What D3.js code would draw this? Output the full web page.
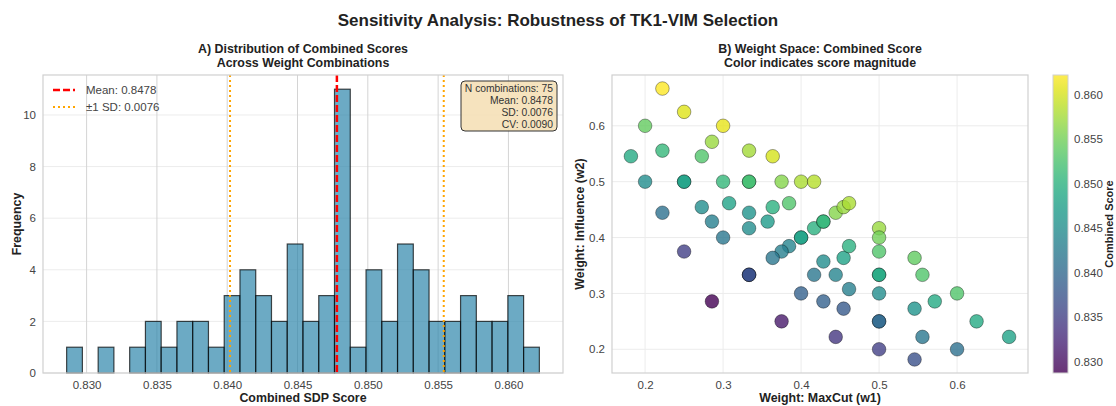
<!DOCTYPE html>
<html>
<head>
<meta charset="utf-8">
<script src="https://cdn.jsdelivr.net/npm/d3@7"></script>
<style>
  html, body { margin: 0; padding: 0; background: #fff; }
  svg { display: block; font-family: "Liberation Sans", Arial, sans-serif; }
</style>
</head>
<body>
<svg id="chart" width="1116" height="406"></svg>
<script>
// ---------------- DATA ----------------
// Histogram (30 bins between binStart and binEnd)
const binStart = 0.82858;
const binEnd = 0.86220;
const binCounts = [1,0,1,0,1,2,1,2,2,1,3,4,3,2,5,2,3,11,1,4,2,5,4,2,2,3,2,2,3,1];
const meanScore = 0.8478;
const sdScore = 0.0076;
const cvScore = 0.0090;
const nCombinations = 75;
const histXTicks = [0.830, 0.835, 0.840, 0.845, 0.850, 0.855, 0.860];
const histYTicks = [0, 2, 4, 6, 8, 10];

// Scatter: weight combinations and their combined scores
const w1 = [0.2222,0.25,0.2,0.3,0.2857,0.1818,0.2222,0.2727,0.3333,0.3636,
            0.2,0.25,0.25,0.3,0.3333,0.3333,0.375,0.4,0.4167,0.2727,
            0.3077,0.2222,0.2857,0.3333,0.3333,0.3636,0.3846,0.3571,0.3,0.4167,
            0.4286,0.4286,0.4444,0.4545,0.4615,0.4,0.4,0.3846,0.375,0.3636,
            0.25,0.3333,0.3333,0.3333,0.2857,0.375,0.4444,0.4,0.4167,0.4286,
            0.4444,0.4545,0.4615,0.4286,0.4615,0.4545,0.5,0.5,0.5,0.5,
            0.5,0.5,0.5,0.5,0.5,0.5455,0.5556,0.5455,0.5714,0.6,
            0.5556,0.5455,0.6,0.625,0.6667];
const w2 = [0.6667,0.625,0.6,0.6,0.5714,0.5455,0.5556,0.5455,0.5556,0.5455,
            0.5,0.5,0.5,0.5,0.5,0.5,0.5,0.5,0.5,0.4545,
            0.4615,0.4444,0.4286,0.4444,0.4167,0.4545,0.4615,0.4286,0.4,0.4167,
            0.4286,0.4286,0.4444,0.4545,0.4615,0.4,0.4,0.3846,0.375,0.3636,
            0.375,0.3333,0.3333,0.3333,0.2857,0.25,0.2222,0.3,0.3333,0.3571,
            0.3333,0.3636,0.3846,0.2857,0.3077,0.2727,0.4167,0.4,0.375,0.3333,
            0.3333,0.3,0.25,0.25,0.2,0.3636,0.3333,0.2727,0.2857,0.3,
            0.2222,0.1818,0.2,0.25,0.2222];
const scores = [0.8622,0.8605,0.8542,0.8610,0.8570,0.8490,0.8510,0.8530,0.8575,0.8600,
                0.8450,0.8480,0.8480,0.8510,0.8520,0.8520,0.8560,0.8580,0.8585,0.8450,
                0.8480,0.8410,0.8430,0.8460,0.8450,0.8500,0.8530,0.8470,0.8420,0.8500,
                0.8510,0.8510,0.8560,0.8570,0.8580,0.8480,0.8480,0.8440,0.8430,0.8420,
                0.8350,0.8370,0.8370,0.8370,0.8287,0.8310,0.8340,0.8390,0.8420,0.8450,
                0.8440,0.8480,0.8500,0.8390,0.8430,0.8380,0.8570,0.8550,0.8530,0.8490,
                0.8490,0.8450,0.8400,0.8400,0.8350,0.8540,0.8530,0.8460,0.8490,0.8530,
                0.8420,0.8370,0.8410,0.8490,0.8480];
const scatXTicks = [0.2, 0.3, 0.4, 0.5, 0.6];
const scatYTicks = [0.2, 0.3, 0.4, 0.5, 0.6];
const cbarTicks = [0.830, 0.835, 0.840, 0.845, 0.850, 0.855, 0.860];

// ---------------- LAYOUT ----------------
const svg = d3.select("#chart");
const L = {x0: 43, x1: 563, y0: 75, y1: 373};
const R = {x0: 612, x1: 1028, y0: 75, y1: 373};
const CB = {x0: 1053, x1: 1068, y0: 75, y1: 373};
const tickColor = "#444";
const tickSize = 11.5;
const fmt3 = d3.format(".3f");
const fmt1 = d3.format(".1f");

svg.append("text").attr("x", 558).attr("y", 26).attr("text-anchor", "middle")
  .attr("font-size", 17).attr("font-weight", "bold").attr("fill", "#222")
  .text("Sensitivity Analysis: Robustness of TK1-VIM Selection");

// ---------------- HISTOGRAM ----------------
const binW = (binEnd - binStart) / binCounts.length;
const bins = binCounts.map((c, i) => ({x0: binStart + i * binW, x1: binStart + (i + 1) * binW, c}));
const hPad = (binEnd - binStart) * 0.05;
const hx = d3.scaleLinear().domain([binStart - hPad, binEnd + hPad]).range([L.x0, L.x1]);
const hyMax = d3.max(binCounts) * 1.05;
const hy = d3.scaleLinear().domain([0, hyMax]).range([L.y1, L.y0]);

const gL = svg.append("g");
// grid
gL.append("g").selectAll("line").data(histYTicks).join("line")
  .attr("x1", L.x0).attr("x2", L.x1).attr("y1", d => hy(d)).attr("y2", d => hy(d))
  .attr("stroke", "#ececec").attr("stroke-width", 1);
gL.append("g").selectAll("line").data(histXTicks).join("line")
  .attr("x1", d => hx(d)).attr("x2", d => hx(d)).attr("y1", L.y0).attr("y2", L.y1)
  .attr("stroke", "#d4d4d4").attr("stroke-width", 1);
// bars
gL.append("g").selectAll("rect").data(bins.filter(b => b.c > 0)).join("rect")
  .attr("x", d => hx(d.x0)).attr("width", d => hx(d.x1) - hx(d.x0))
  .attr("y", d => hy(d.c)).attr("height", d => hy(0) - hy(d.c))
  .attr("fill", "#2E86AB").attr("fill-opacity", 0.7)
  .attr("stroke", "#000").attr("stroke-opacity", 0.7).attr("stroke-width", 1.2);
// mean & sd lines
gL.append("line").attr("x1", hx(meanScore)).attr("x2", hx(meanScore)).attr("y1", L.y0).attr("y2", L.y1)
  .attr("stroke", "#ff0000").attr("stroke-width", 2.5).attr("stroke-dasharray", "7,3");
[meanScore - sdScore, meanScore + sdScore].forEach(v => {
  gL.append("line").attr("x1", hx(v)).attr("x2", hx(v)).attr("y1", L.y0).attr("y2", L.y1)
    .attr("stroke", "#ffa500").attr("stroke-width", 2).attr("stroke-dasharray", "2,3");
});
// frame
gL.append("rect").attr("x", L.x0).attr("y", L.y0).attr("width", L.x1 - L.x0).attr("height", L.y1 - L.y0)
  .attr("fill", "none").attr("stroke", "#d0d0d0").attr("stroke-width", 1.2);
// axes
const hxAxis = gL.append("g").attr("transform", `translate(0,${L.y1})`)
  .call(d3.axisBottom(hx).tickValues(histXTicks).tickFormat(fmt3).tickSize(0).tickPadding(8));
const hyAxis = gL.append("g").attr("transform", `translate(${L.x0},0)`)
  .call(d3.axisLeft(hy).tickValues(histYTicks).tickSize(0).tickPadding(7));
[hxAxis, hyAxis].forEach(a => { a.select(".domain").remove();
  a.selectAll("text").attr("font-size", tickSize).attr("fill", tickColor).attr("font-family", "Liberation Sans, Arial, sans-serif"); });
// titles
gL.append("text").attr("x", (L.x0 + L.x1) / 2).attr("y", 53).attr("text-anchor", "middle")
  .attr("font-size", 12.4).attr("font-weight", "bold").attr("fill", "#222").text("A) Distribution of Combined Scores");
gL.append("text").attr("x", (L.x0 + L.x1) / 2).attr("y", 67).attr("text-anchor", "middle")
  .attr("font-size", 12.4).attr("font-weight", "bold").attr("fill", "#222").text("Across Weight Combinations");
gL.append("text").attr("x", (L.x0 + L.x1) / 2).attr("y", 402).attr("text-anchor", "middle")
  .attr("font-size", 12.4).attr("font-weight", "bold").attr("fill", "#222").text("Combined SDP Score");
gL.append("text").attr("transform", `translate(21,${(L.y0 + L.y1) / 2}) rotate(-90)`).attr("text-anchor", "middle")
  .attr("font-size", 12.4).attr("font-weight", "bold").attr("fill", "#222").text("Frequency");
// legend
const leg = gL.append("g");
leg.append("line").attr("x1", 53).attr("x2", 75).attr("y1", 90).attr("y2", 90)
  .attr("stroke", "#ff0000").attr("stroke-width", 2.5).attr("stroke-dasharray", "7,3");
leg.append("text").attr("x", 86).attr("y", 94).attr("font-size", tickSize).attr("fill", tickColor).text("Mean: " + meanScore.toFixed(4));
leg.append("line").attr("x1", 53).attr("x2", 75).attr("y1", 107).attr("y2", 107)
  .attr("stroke", "#ffa500").attr("stroke-width", 2).attr("stroke-dasharray", "2,3");
leg.append("text").attr("x", 86).attr("y", 111).attr("font-size", tickSize).attr("fill", tickColor).text("±1 SD: " + sdScore.toFixed(4));
// stats box
const statLines = ["N combinations: " + nCombinations, "Mean: " + meanScore.toFixed(4), "SD: " + sdScore.toFixed(4), "CV: " + cvScore.toFixed(4)];
gL.append("rect").attr("x", 461).attr("y", 81).attr("width", 96).attr("height", 50).attr("rx", 4)
  .attr("fill", "#f5deb3").attr("fill-opacity", 0.85).attr("stroke", "#333").attr("stroke-width", 1);
gL.append("g").selectAll("text").data(statLines).join("text")
  .attr("x", 553).attr("y", (d, i) => 92 + i * 12).attr("text-anchor", "end")
  .attr("font-size", 10.3).attr("fill", "#333").text(d => d);

// ---------------- SCATTER ----------------
const pts = w1.map((x, i) => ({x, y: w2[i], s: scores[i]}));
const xExt = d3.extent(w1), yExt = d3.extent(w2);
const xPad = (xExt[1] - xExt[0]) * 0.05, yPad = (yExt[1] - yExt[0]) * 0.05;
const sx = d3.scaleLinear().domain([xExt[0] - xPad, xExt[1] + xPad]).range([R.x0, R.x1]);
const sy = d3.scaleLinear().domain([yExt[0] - yPad, yExt[1] + yPad]).range([R.y1, R.y0]);
const sExt = d3.extent(scores);
const color = d3.scaleSequential(d3.interpolateViridis).domain(sExt);

const gR = svg.append("g");
gR.append("g").selectAll("line").data(scatYTicks).join("line")
  .attr("x1", R.x0).attr("x2", R.x1).attr("y1", d => sy(d)).attr("y2", d => sy(d))
  .attr("stroke", "#ececec").attr("stroke-width", 1);
gR.append("g").selectAll("line").data(scatXTicks).join("line")
  .attr("x1", d => sx(d)).attr("x2", d => sx(d)).attr("y1", R.y0).attr("y2", R.y1)
  .attr("stroke", "#ececec").attr("stroke-width", 1);
gR.append("rect").attr("x", R.x0).attr("y", R.y0).attr("width", R.x1 - R.x0).attr("height", R.y1 - R.y0)
  .attr("fill", "none").attr("stroke", "#d0d0d0").attr("stroke-width", 1.2);
gR.append("g").selectAll("circle").data(pts).join("circle")
  .attr("cx", d => sx(d.x)).attr("cy", d => sy(d.y)).attr("r", 6.8)
  .attr("fill", d => color(d.s)).attr("fill-opacity", 0.8)
  .attr("stroke", "#000").attr("stroke-opacity", 0.45).attr("stroke-width", 0.8);
const sxAxis = gR.append("g").attr("transform", `translate(0,${R.y1})`)
  .call(d3.axisBottom(sx).tickValues(scatXTicks).tickFormat(fmt1).tickSize(0).tickPadding(8));
const syAxis = gR.append("g").attr("transform", `translate(${R.x0},0)`)
  .call(d3.axisLeft(sy).tickValues(scatYTicks).tickFormat(fmt1).tickSize(0).tickPadding(7));
[sxAxis, syAxis].forEach(a => { a.select(".domain").remove();
  a.selectAll("text").attr("font-size", tickSize).attr("fill", tickColor).attr("font-family", "Liberation Sans, Arial, sans-serif"); });
gR.append("text").attr("x", (R.x0 + R.x1) / 2).attr("y", 53).attr("text-anchor", "middle")
  .attr("font-size", 12.4).attr("font-weight", "bold").attr("fill", "#222").text("B) Weight Space: Combined Score");
gR.append("text").attr("x", (R.x0 + R.x1) / 2).attr("y", 67).attr("text-anchor", "middle")
  .attr("font-size", 12.4).attr("font-weight", "bold").attr("fill", "#222").text("Color indicates score magnitude");
gR.append("text").attr("x", (R.x0 + R.x1) / 2).attr("y", 402).attr("text-anchor", "middle")
  .attr("font-size", 12.4).attr("font-weight", "bold").attr("fill", "#222").text("Weight: MaxCut (w1)");
gR.append("text").attr("transform", `translate(584,${(R.y0 + R.y1) / 2}) rotate(-90)`).attr("text-anchor", "middle")
  .attr("font-size", 12.4).attr("font-weight", "bold").attr("fill", "#222").text("Weight: Influence (w2)");

// ---------------- COLORBAR ----------------
const defs = svg.append("defs");
const grad = defs.append("linearGradient").attr("id", "cbgrad").attr("x1", 0).attr("x2", 0).attr("y1", 1).attr("y2", 0);
d3.range(0, 1.0001, 0.05).forEach(t => grad.append("stop").attr("offset", t).attr("stop-color", d3.interpolateViridis(t)));
const cy = d3.scaleLinear().domain(sExt).range([CB.y1, CB.y0]);
svg.append("rect").attr("x", CB.x0).attr("y", CB.y0).attr("width", CB.x1 - CB.x0).attr("height", CB.y1 - CB.y0)
  .attr("fill", "url(#cbgrad)").attr("fill-opacity", 0.8).attr("stroke", "#d0d0d0").attr("stroke-width", 1);
const cAxis = svg.append("g").attr("transform", `translate(${CB.x1},0)`)
  .call(d3.axisRight(cy).tickValues(cbarTicks).tickFormat(fmt3).tickSize(0).tickPadding(6));
cAxis.select(".domain").remove();
cAxis.selectAll("text").attr("font-size", tickSize).attr("fill", tickColor).attr("font-family", "Liberation Sans, Arial, sans-serif");
svg.append("text").attr("transform", `translate(1113,${(CB.y0 + CB.y1) / 2}) rotate(-90)`).attr("text-anchor", "middle")
  .attr("font-size", 11).attr("font-weight", "bold").attr("fill", "#222").text("Combined Score");
</script>
</body>
</html>
